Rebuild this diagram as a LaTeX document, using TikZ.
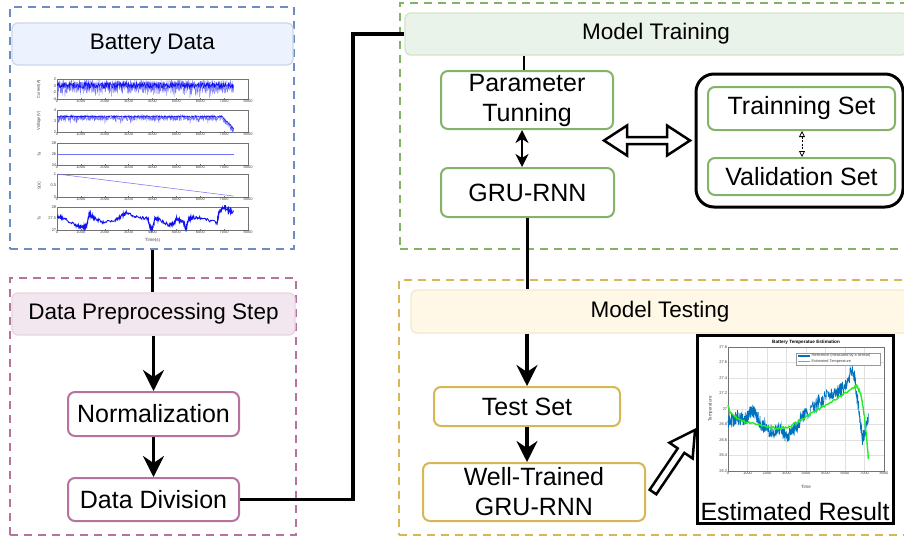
\documentclass[tikz,border=0pt]{standalone}
\usepackage{fontspec}
\setmainfont{Liberation Sans}
\usetikzlibrary{arrows.meta,calc}
\definecolor{bstroke}{HTML}{6C8EBF}
\definecolor{bfill}{HTML}{DAE8FC}
\definecolor{pstroke}{HTML}{B5739D}
\definecolor{pfill}{HTML}{E6D0DE}
\definecolor{gstroke}{HTML}{82B366}
\definecolor{gfill}{HTML}{D5E8D4}
\definecolor{ystroke}{HTML}{D6B656}
\definecolor{yfill}{HTML}{FFF2CC}
\definecolor{mblue}{HTML}{1010F0}
\definecolor{refblue}{HTML}{0072BD}
\definecolor{estgreen}{HTML}{22EE22}
\begin{document}
\begin{tikzpicture}[x=1pt,y=-1pt,
  box/.style={draw, line width=2pt, rounded corners=7pt, fill=white, align=center,
    font=\fontsize{25}{30}\selectfont, inner sep=0pt},
  ttl/.style={draw, line width=1.3pt, rounded corners=6pt,
    font=\fontsize{22.5}{27}\selectfont, inner sep=0pt},
  grp/.style={draw, line width=2.5pt, dash pattern=on 8pt off 6pt, inner sep=0pt},
  conn/.style={line width=3.2pt},
  arr/.style={line width=3.2pt, -{Stealth[length=21pt,width=21pt,inset=7pt]}},
  tick/.style={font=\fontsize{4}{4}\selectfont, inner sep=0.6pt, text=black!75},
  axframe/.style={line width=0.3pt, black!55},
]
\clip (0,0) rectangle (904,541);
\fill[white] (0,0) rectangle (904,541);

% ---------- groups ----------
\node[grp, draw=bstroke, minimum width=284pt, minimum height=242pt] (gb) at (152,128) {};
\node[grp, draw=pstroke, minimum width=286pt, minimum height=257pt] (gp) at (153,406.5) {};
\node[grp, draw=gstroke, minimum width=530pt, minimum height=246pt] (gg) at (665,126) {};
\node[grp, draw=ystroke, minimum width=530pt, minimum height=255pt] (gy) at (664,407.5) {};

% ---------- titles ----------
\node[ttl, draw=bstroke!35, fill=bfill!50, minimum width=281pt, minimum height=42pt] (bt) at (152.5,44) {Battery Data};
\node[ttl, draw=pstroke!30, fill=pfill!50, minimum width=283pt, minimum height=42pt] (pt) at (153.5,314) {Data Preprocessing Step};
\node[ttl, draw=gstroke!35, fill=gfill!50, minimum width=502pt, minimum height=42pt] (mt) at (656,34) {Model Training};
\node[ttl, draw=ystroke!30, fill=yfill!50, minimum width=498pt, minimum height=43pt] (ms) at (660,311.5) {Model Testing};

% ---------- boxes ----------
\node[box, draw=pstroke, minimum width=171pt, minimum height=44pt] (norm) at (153.5,414) {Normalization};
\node[box, draw=pstroke, minimum width=171pt, minimum height=43pt] (div) at (153.5,499.5) {Data Division};
\node[box, draw=gstroke, minimum width=172pt, minimum height=58pt] (ptun) at (527,100) {Parameter\\Tunning};
\node[box, draw=gstroke, minimum width=173pt, minimum height=49pt] (gru) at (527.5,192.5) {GRU-RNN};
\node[draw, line width=3pt, rounded corners=18pt, minimum width=207pt, minimum height=133pt] (sets) at (799.5,140.5) {};
\node[box, draw=gstroke, minimum width=187pt, minimum height=43pt] (train) at (801.5,108.5) {Trainning Set};
\node[box, draw=gstroke, minimum width=187pt, minimum height=37pt] (val) at (801.5,176.5) {Validation Set};
\node[box, draw=ystroke, minimum width=186pt, minimum height=39pt] (test) at (527,406.5) {Test Set};
\node[box, draw=ystroke, minimum width=222pt, minimum height=58pt] (well) at (534,492) {Well-Trained\\GRU-RNN};
\node[draw, line width=3pt, fill=white, minimum width=196pt, minimum height=188pt, inner sep=0pt] (res) at (795,429) {};
\node[font=\fontsize{25}{30}\selectfont, anchor=base, inner sep=0pt] (restxt) at (795,520) {Estimated Result};

% ---------- connectors ----------
\coordinate (jx) at (353,0);
\draw[conn] (gb.south -| bt) -- (pt.north -| bt);
\draw[arr] (pt.south -| norm) -- (norm.north);
\draw[arr] (norm.south) -- (div.north);
\draw[conn] (div.east) -- (jx |- div.east) -- (jx |- mt.west) -- (mt.west);
\draw[line width=2.5pt] (mt.south -| 524,0) -- (ptun.north -| 524,0);
\draw[line width=2pt, {Stealth[length=13pt,width=13pt,inset=4pt]}-{Stealth[length=13pt,width=13pt,inset=4pt]}] (ptun.south -| 522,0) -- (gru.north -| 522,0);
\draw[conn] (gru.south) -- (gru.south |- ms.north);
\draw[arr] (ms.south -| test) -- (test.north);
\draw[arr] (test.south) -- (test.south |- well.north);
\draw[line width=0.8pt, dash pattern=on 2pt off 1.5pt, {Triangle[open,length=6pt,width=6pt]}-{Triangle[open,length=6pt,width=6pt]}] (train.south -| 802,0) -- (val.north -| 802,0);

% big hollow double arrow
\draw[line width=2.5pt, fill=white, line join=miter]
  (604,140.5) -- (627,125.5) -- (627,137) -- (667,137) -- (667,125.5) -- (690,140.5)
  -- (667,155.5) -- (667,144) -- (627,144) -- (627,155.5) -- cycle;
% diagonal hollow arrow
\begin{scope}[shift={(653pt,-492pt)}, rotate=55.9]
  \draw[line width=2.5pt, fill=white, line join=miter]
    (0,-4pt) -- (50pt,-4pt) -- (50pt,-14pt) -- (75pt,0) -- (50pt,14pt) -- (50pt,4pt) -- (0,4pt) -- cycle;
\end{scope}

% ---------- battery data plots ----------
\pgfmathsetseed{4242}
\newcommand\bframe[2]{%
  \draw[axframe] (0,#1) rectangle (8000,#2);
  \foreach \t in {0,1000,...,8000} {\draw[axframe] (\t,#1) -- ++(0,1pt);
    \node[tick, below] at (\t,#1) {\t};}}
% Current
\begin{scope}[shift={(57pt,-99pt)}, x=0.023875pt, y=3.3333pt, shift={(0,4)}]
  \bframe{-4}{2}
  \foreach \v in {-4,-2,0,2} \node[tick, left] at (0,\v) {\v};
  \node[tick, rotate=90, anchor=south] at (-650,-1) {Current(A)};
  \begin{scope}\clip (0,-4) rectangle (8000,2);
  \draw[mblue!55, line width=0.35pt] plot[domain=0:7400, samples=800] (\x,{-0.3+2.1*rand-1.5*(rnd>0.8)*rnd});
  \draw[mblue, line width=0.5pt] plot[domain=0:7400, samples=450] (\x,{0.1+0.9*rand});
  \end{scope}
\end{scope}
% Voltage
\begin{scope}[shift={(57pt,-132pt)}, x=0.023875pt, y=11pt, shift={(0,-2)}]
  \bframe{2}{4}
  \foreach \v in {2,3,4} \node[tick, left] at (0,\v) {\v};
  \node[tick, rotate=90, anchor=south] at (-650,3) {Voltage(V)};
  \begin{scope}\clip (0,2) rectangle (8000,4);
  \draw[mblue!60, line width=0.35pt] plot[domain=0:7400, samples=650] (\x,{3.3+0.25*rand-0.3*(rnd>0.9)-(\x>6900)*(\x-6900)*0.0022});
  \draw[mblue, line width=0.6pt] plot[domain=0:7400, samples=300] (\x,{3.4+0.07*rand-(\x>6900)*(\x-6900)*0.0022});
  \end{scope}
\end{scope}
% Ta
\begin{scope}[shift={(57pt,-165pt)}, x=0.023875pt, y=5.5pt, shift={(0,-24)}]
  \bframe{24}{28}
  \foreach \v in {24,26,28} \node[tick, left] at (0,\v) {\v};
  \node[tick, rotate=90, anchor=south] at (-650,26) {Ta};
  \draw[mblue!60, line width=0.5pt] (0,26) -- (7400,26);
\end{scope}
% SOC
\begin{scope}[shift={(57pt,-197pt)}, x=0.023875pt, y=23pt]
  \bframe{0}{1}
  \foreach \v in {0,0.5,1} \node[tick, left] at (0,\v) {\v};
  \node[tick, rotate=90, anchor=south] at (-650,0.5) {SOC};
  \draw[mblue!60, line width=0.5pt] (0,1) -- (7400,0.04);
\end{scope}
% Ts
\begin{scope}[shift={(57pt,-230pt)}, x=0.023875pt, y=23pt, shift={(0,-27)}]
  \bframe{27}{28}
  \node[tick, left] at (0,27) {27};
  \node[tick, left] at (0,27.5) {27.5};
  \node[tick, left] at (0,28) {28};
  \node[tick, rotate=90, anchor=south] at (-650,27.5) {Ts};
  \node[tick, font=\fontsize{4.5}{4.5}\selectfont] at (4000,26.55) {Time(s)};
  \begin{scope}\clip (0,26.9) rectangle (8000,28.05);
  \draw[mblue, line width=0.9pt] (0,27.6)
    \foreach \xa/\ya/\xb/\yb in {0/27.6/300/27.5, 300/27.5/800/27.2, 800/27.2/1100/27.12,
      1100/27.12/1250/27.2, 1250/27.2/1350/27.7, 1350/27.7/1500/27.55, 1500/27.55/1900/27.35,
      1900/27.35/2400/27.4, 2400/27.4/2700/27.6, 2700/27.6/2900/27.75, 2900/27.75/3300/27.55,
      3300/27.55/3800/27.5, 3800/27.5/3900/27.1, 3900/27.1/4000/27.05, 4000/27.05/4100/27.5,
      4100/27.5/4300/27.45, 4300/27.45/4700/27.2, 4700/27.2/4900/27.3, 4900/27.3/5000/27.5,
      5000/27.5/5300/27.35, 5300/27.35/5400/27.05, 5400/27.05/5500/27.45, 5500/27.45/5700/27.55,
      5700/27.55/6100/27.5, 6100/27.5/6700/27.3, 6700/27.3/6800/27.8, 6800/27.8/7000/28.0,
      7000/28.0/7200/27.85, 7200/27.85/7400/27.75}
    {\foreach \i in {1,...,16} { -- ({\xa+(\xb-\xa)*\i/16},{\ya+(\yb-\ya)*\i/16+0.07*rand}) }};
  \end{scope}
\end{scope}

% ---------- result plot ----------
\begin{scope}[shift={(728pt,-471pt)}, x=0.0195pt, y=77.5pt, shift={(0,-26.2)}]
  \foreach \v in {26.2,26.4,26.6,26.8,27,27.2,27.4,27.6,27.8} {
    \draw[black!12, line width=0.3pt] (0,\v) -- (8000,\v);
    \node[tick, left] at (0,\v) {\v};}
  \foreach \t in {0,1000,...,8000} {
    \draw[black!12, line width=0.3pt] (\t,26.2) -- (\t,27.8);
    \node[tick, below] at (\t,26.2) {\t};}
  \draw[axframe] (0,26.2) rectangle (8000,27.8);
  \node[tick, rotate=90, anchor=south, font=\fontsize{4.5}{4.5}\selectfont] at (-750,27) {Temperature};
  \node[tick, font=\fontsize{4.5}{4.5}\selectfont] at (4000,26.0) {Time};
  \node[font=\bfseries\fontsize{4.6}{5}\selectfont, inner sep=0pt] at (4000,27.86) {Battery Temperatue Estimation};
  \draw[refblue, line width=0.7pt] (0,26.85)
    \foreach \xa/\ya/\xb/\yb in {0/26.85/200/26.85, 200/26.85/500/26.9, 500/26.9/800/26.85,
      800/26.85/1000/26.9, 1000/26.9/1200/27.0, 1200/27.0/1400/26.95, 1400/26.95/1700/26.8,
      1700/26.8/2000/26.75, 2000/26.75/2300/26.7, 2300/26.7/2600/26.75, 2600/26.75/3000/26.65,
      3000/26.65/3300/26.7, 3300/26.7/3600/26.8, 3600/26.8/4000/26.95, 4000/26.95/4500/27.05,
      4500/27.05/5000/27.15, 5000/27.15/5500/27.2, 5500/27.2/5800/27.25, 5800/27.25/6100/27.35,
      6100/27.35/6350/27.5, 6350/27.5/6500/27.4, 6500/27.4/6700/27.0, 6700/27.0/6900/26.62,
      6900/26.62/7000/26.7, 7000/26.7/7200/26.9}
    {\foreach \i in {1,...,20} { -- ({\xa+(\xb-\xa)*\i/20},{\ya+(\yb-\ya)*\i/20+0.09*rand}) }};
  \draw[estgreen, line width=1.4pt] (0,27.05)
    \foreach \xa/\ya/\xb/\yb in {0/27.05/100/26.95, 100/26.95/500/26.88, 500/26.88/1000/26.83,
      1000/26.83/1500/26.8, 1500/26.8/2000/26.77, 2000/26.77/2500/26.75, 2500/26.75/3000/26.76,
      3000/26.76/3500/26.82, 3500/26.82/4000/26.9, 4000/26.9/4500/26.98, 4500/26.98/5000/27.05,
      5000/27.05/5500/27.12, 5500/27.12/6000/27.2, 6000/27.2/6300/27.25, 6300/27.25/6600/27.3,
      6600/27.3/6800/27.2, 6800/27.2/7000/26.9, 7000/26.9/7100/26.65, 7100/26.65/7200/26.35}
    {\foreach \i in {1,...,8} { -- ({\xa+(\xb-\xa)*\i/8},{\ya+(\yb-\ya)*\i/8+0.015*rand}) }};
\end{scope}
% legend
\node[draw=black!40, line width=0.3pt, fill=white, minimum width=84pt, minimum height=12pt, inner sep=0pt] (leg) at (838,359) {};
\draw[refblue, line width=1.3pt] (798,356) -- (810,356);
\draw[estgreen, line width=1.3pt] (798,361.8) -- (810,361.8);
\node[tick, anchor=west, inner sep=0pt, font=\fontsize{3.8}{4}\selectfont] (l1) at (811.5,356) {Reference (measured by a sensor)};
\node[tick, anchor=west, inner sep=0pt, font=\fontsize{3.8}{4}\selectfont] (l2) at (811.5,361.8) {Estimated Temperature};
\end{tikzpicture}
\end{document}
